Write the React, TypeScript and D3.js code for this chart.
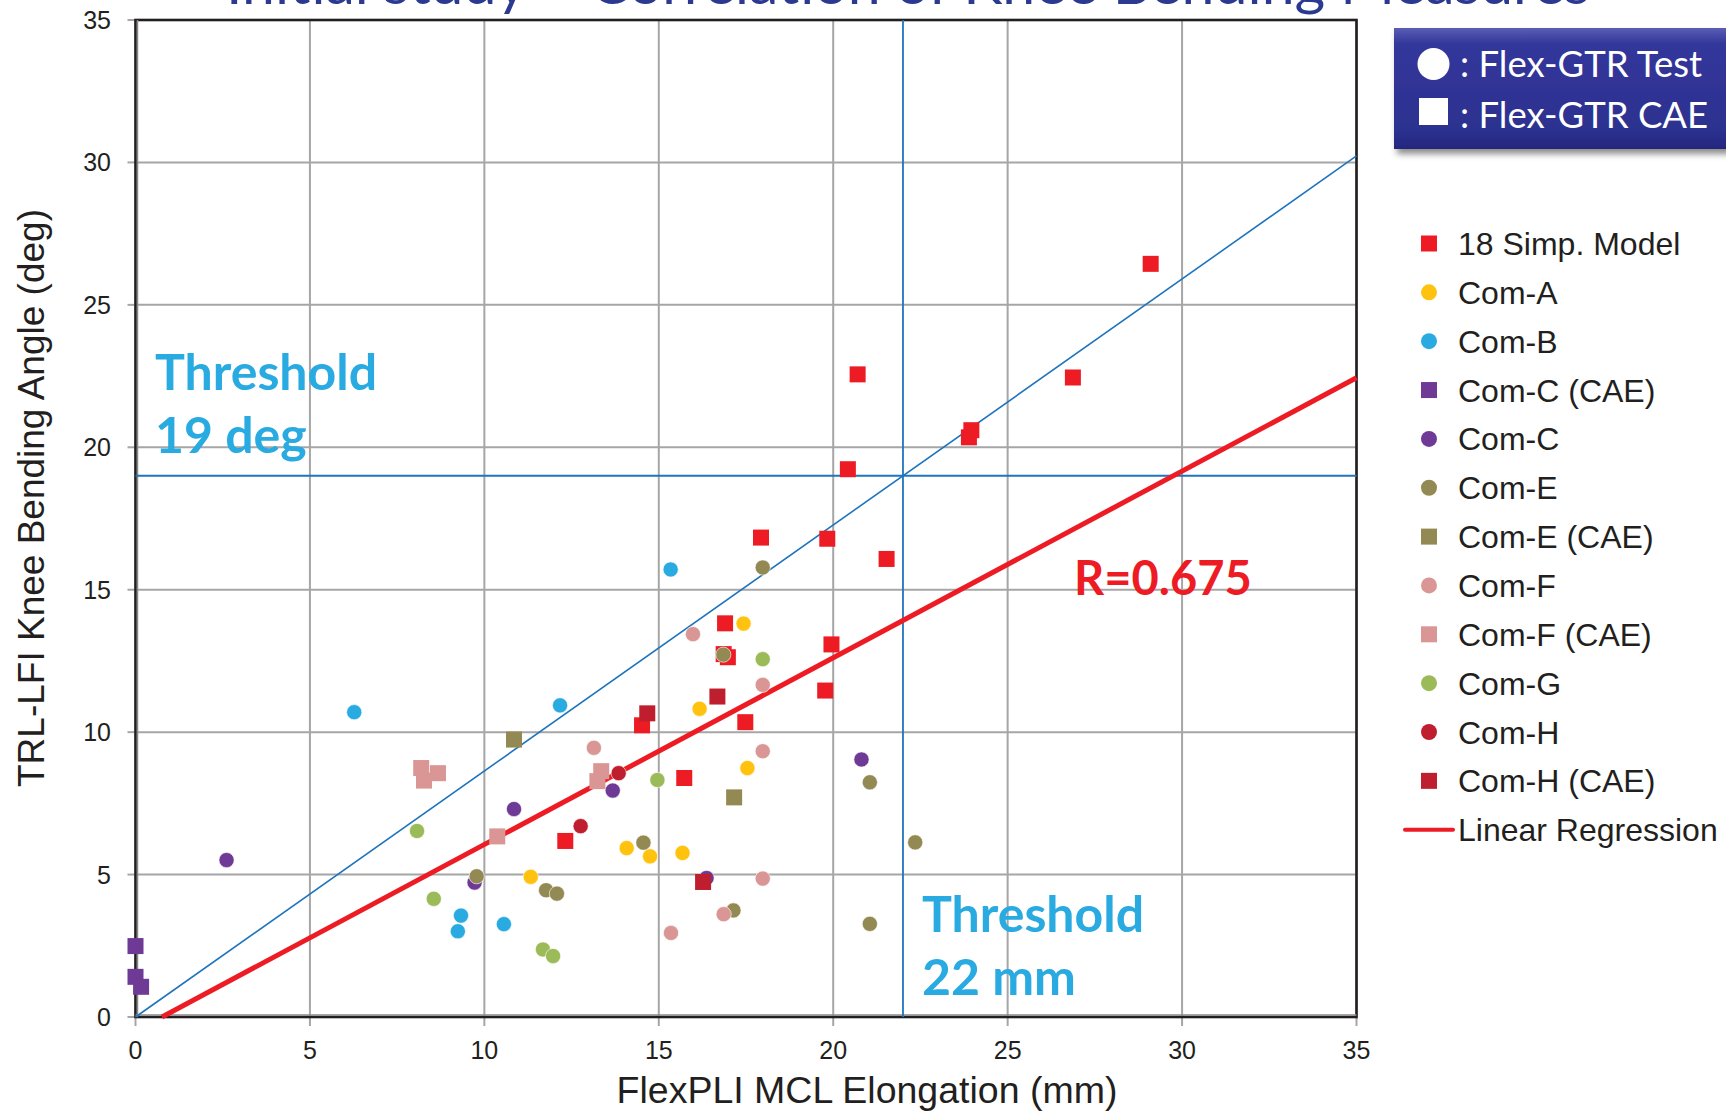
import React from "react";
import * as d3 from "d3";

type Pt = [number, number];

const simp18: Pt[] = [
  [12.32, 6.18], [14.52, 10.24], [15.73, 8.39], [16.9, 13.82], [16.98, 12.63], [16.86, 12.74],
  [17.48, 10.35], [17.93, 16.83], [19.77, 11.46], [19.83, 16.79], [19.95, 13.08], [20.42, 19.23],
  [20.7, 22.56], [21.53, 16.08], [23.89, 20.35], [23.96, 20.6], [26.87, 22.45], [29.1, 26.44],
];
const comA: Pt[] = [[11.33, 4.92], [14.08, 5.93], [14.75, 5.64], [15.68, 5.76], [16.17, 10.82], [17.43, 13.81], [17.54, 8.74]];
const comB: Pt[] = [[6.27, 10.7], [9.24, 3.01], [9.33, 3.56], [10.56, 3.26], [12.17, 10.94], [15.34, 15.71]];
const comCCae: Pt[] = [[0, 2.49], [0, 1.41], [0.16, 1.06]];
const comC: Pt[] = [[2.61, 5.51], [9.72, 4.72], [10.85, 7.3], [13.68, 7.95], [16.37, 4.88], [20.81, 9.04]];
const comE: Pt[] = [[9.78, 4.94], [11.77, 4.45], [12.08, 4.33], [14.56, 6.12], [16.85, 12.72], [17.14, 3.74], [17.98, 15.78], [21.05, 8.24], [21.05, 3.27], [22.35, 6.13]];
const comECae: Pt[] = [[10.85, 9.74], [17.16, 7.71]];
const comF: Pt[] = [[13.14, 9.45], [15.35, 2.95], [15.98, 13.44], [16.86, 3.61], [17.98, 11.66], [17.98, 9.33], [17.98, 4.86]];
const comFCae: Pt[] = [[8.19, 8.74], [8.67, 8.56], [8.27, 8.3], [10.37, 6.34], [13.35, 8.63], [13.24, 8.28]];
const comG: Pt[] = [[8.07, 6.53], [8.55, 4.15], [11.68, 2.37], [11.97, 2.14], [14.96, 8.32], [17.98, 12.56]];
const comH: Pt[] = [[12.76, 6.7], [13.85, 8.56]];
const comHCae: Pt[] = [[14.67, 10.66], [16.68, 11.25], [16.27, 4.74]];

const seriesNames = ["18 Simp. Model", "Com-A", "Com-B", "Com-C (CAE)", "Com-C", "Com-E", "Com-E (CAE)", "Com-F", "Com-F (CAE)", "Com-G", "Com-H", "Com-H (CAE)"];
const seriesData = [simp18, comA, comB, comCCae, comC, comE, comECae, comF, comFCae, comG, comH, comHCae];
const seriesShape = ["square", "circle", "circle", "square", "circle", "circle", "square", "circle", "square", "circle", "circle", "square"];
const seriesColor = ["#ED1C24", "#FFC20E", "#29ABE2", "#6F3996", "#6F3996", "#938953", "#938953", "#D99694", "#D99694", "#9BBB59", "#BE1E2D", "#BE1E2D"];

const xTicks = [0, 5, 10, 15, 20, 25, 30, 35];
const yTicks = [0, 5, 10, 15, 20, 25, 30, 35];
const regSlope = 0.6554;
const regIntercept = -0.498;
const thresholdAngle = 19;
const thresholdElong = 22;
const rValue = "R=0.675";

export default function App() {
  const x = d3.scaleLinear().domain([0, 35]).range([135.5, 1356.5]);
  const y = d3.scaleLinear().domain([0, 35]).range([1017, 20]);
  const line = d3.line<Pt>().x((d) => x(d[0])).y((d) => y(d[1]));
  const regStart = -regIntercept / regSlope;
  const regPts: Pt[] = [[regStart, 0], [35, regSlope * 35 + regIntercept]];
  const refPts: Pt[] = [[0, 0], [35, (35 * thresholdAngle) / thresholdElong]];
  const sq = 16;
  const r = 7.6;
  const arial = "'Liberation Sans', Arial, sans-serif";
  const lato = "Lato, 'Open Sans', sans-serif";
  const legRow0 = 243.5;
  const legStep = 48.85;

  return (
    <div style={{ position: "absolute", left: 0, top: 0 }}>
      <svg width={1726} height={1111} style={{ display: "block", background: "#fff" }}>
        <defs>
          <linearGradient id="boxGrad" x1="0" y1="0" x2="0" y2="1">
            <stop offset="0" stopColor="#5A5EB4" />
            <stop offset="0.13" stopColor="#33379B" />
            <stop offset="0.85" stopColor="#2C308F" />
            <stop offset="1" stopColor="#24277D" />
          </linearGradient>
          <filter id="shadow" x="-10%" y="-10%" width="130%" height="140%">
            <feDropShadow dx="3" dy="5" stdDeviation="3" floodColor="#000" floodOpacity="0.45" />
          </filter>
        </defs>

        {/* title (clipped at top, as in the reference) */}
        <text x={226} y={4} fontFamily={lato} fontSize={59} fill="#2B3990">
          Initial study – Correlation of Knee Bending Measures
        </text>

        {/* grid */}
        {xTicks.map((t) => (
          <line key={"gx" + t} x1={x(t)} x2={x(t)} y1={y(0)} y2={y(35)} stroke="#A6A6A6" strokeWidth={2} />
        ))}
        {yTicks.map((t) => (
          <line key={"gy" + t} x1={x(0)} x2={x(35)} y1={y(t)} y2={y(t)} stroke="#A6A6A6" strokeWidth={2} />
        ))}
        {/* tick marks */}
        {xTicks.map((t) => (
          <line key={"tx" + t} x1={x(t)} x2={x(t)} y1={y(0)} y2={y(0) + 9} stroke="#A6A6A6" strokeWidth={2} />
        ))}
        {yTicks.map((t) => (
          <line key={"ty" + t} x1={x(0) - 8} x2={x(0)} y1={y(t)} y2={y(t)} stroke="#A6A6A6" strokeWidth={2} />
        ))}

        {/* border */}
        <rect x={x(0)} y={y(35)} width={x(35) - x(0)} height={y(0) - y(35)} fill="none" stroke="#231F20" strokeWidth={2.6} />
        <line x1={x(0) + 2} x2={x(0) + 2} y1={y(35)} y2={y(0)} stroke="#8A8A8A" strokeWidth={1.5} />
        <line x1={x(0)} x2={x(35)} y1={y(0) - 2} y2={y(0) - 2} stroke="#8A8A8A" strokeWidth={1.5} />

        {/* threshold lines */}
        <line x1={x(0)} x2={x(35)} y1={y(thresholdAngle)} y2={y(thresholdAngle)} stroke="#1F74BE" strokeWidth={1.8} />
        <line x1={x(thresholdElong)} x2={x(thresholdElong)} y1={y(0)} y2={y(35)} stroke="#1F74BE" strokeWidth={1.8} />
        <path d={line(refPts) || ""} stroke="#1F74BE" strokeWidth={1.6} fill="none" />
        <path d={line(regPts) || ""} stroke="#ED1C24" strokeWidth={5} fill="none" />

        {/* points */}
        {seriesData.map((data, si) =>
          data.map((d, i) =>
            seriesShape[si] === "square" ? (
              <rect key={si + "-" + i} x={x(d[0]) - sq / 2} y={y(d[1]) - sq / 2} width={sq} height={sq} fill={seriesColor[si]} />
            ) : (
              <circle key={si + "-" + i} cx={x(d[0])} cy={y(d[1])} r={r} fill={seriesColor[si]} stroke="#fff" strokeWidth={0.6} />
            )
          )
        )}

        {/* tick labels */}
        {xTicks.map((t) => (
          <text key={"lx" + t} x={x(t)} y={1059} textAnchor="middle" fontFamily={arial} fontSize={25} fill="#231F20">
            {t}
          </text>
        ))}
        {yTicks.map((t) => (
          <text key={"ly" + t} x={111} y={y(t) + 9} textAnchor="end" fontFamily={arial} fontSize={25} fill="#231F20">
            {t}
          </text>
        ))}

        {/* axis titles */}
        <text x={867} y={1103} textAnchor="middle" fontFamily={arial} fontSize={37.5} fill="#231F20">
          FlexPLI MCL Elongation (mm)
        </text>
        <text transform="translate(44,498) rotate(-90)" textAnchor="middle" fontFamily={arial} fontSize={37} fill="#231F20">
          TRL-LFI Knee Bending Angle (deg)
        </text>

        {/* annotations */}
        <text x={155} y={390} fontFamily={lato} fontWeight={700} fontSize={50} fill="#29ABE2">Threshold</text>
        <text x={155} y={453} fontFamily={lato} fontWeight={700} fontSize={50} fill="#29ABE2">19 deg</text>
        <text x={922} y={932} fontFamily={lato} fontWeight={700} fontSize={50} fill="#29ABE2">Threshold</text>
        <text x={922} y={995} fontFamily={lato} fontWeight={700} fontSize={50} fill="#29ABE2">22 mm</text>
        <text x={1074} y={595} fontFamily={lato} fontWeight={700} fontSize={47} fill="#ED1C24">{rValue}</text>

        {/* top-right box legend */}
        <rect x={1394} y={28} width={345} height={121} fill="url(#boxGrad)" filter="url(#shadow)" />
        <circle cx={1433.5} cy={64} r={16} fill="#fff" />
        <text x={1460} y={77} fontFamily={lato} fontSize={36.5} fill="#fff">: Flex-GTR Test</text>
        <rect x={1419} y={98} width={29} height={27} fill="#fff" />
        <text x={1460} y={128} fontFamily={lato} fontSize={36.5} fill="#fff">: Flex-GTR CAE</text>

        {/* series legend */}
        {seriesNames.map((n, i) => {
          const cy = legRow0 + i * legStep;
          return (
            <g key={"leg" + i}>
              {seriesShape[i] === "square" ? (
                <rect x={1429 - 8} y={cy - 8} width={16} height={16} fill={seriesColor[i]} />
              ) : (
                <circle cx={1429} cy={cy} r={8} fill={seriesColor[i]} />
              )}
              <text x={1458} y={cy + 11.5} fontFamily={arial} fontSize={32} fill="#231F20">{n}</text>
            </g>
          );
        })}
        <line x1={1405} x2={1453} y1={legRow0 + 12 * legStep} y2={legRow0 + 12 * legStep} stroke="#ED1C24" strokeWidth={4} strokeLinecap="round" />
        <text x={1458} y={legRow0 + 12 * legStep + 11.5} fontFamily={arial} fontSize={32} fill="#231F20">Linear Regression</text>
      </svg>
    </div>
  );
}
